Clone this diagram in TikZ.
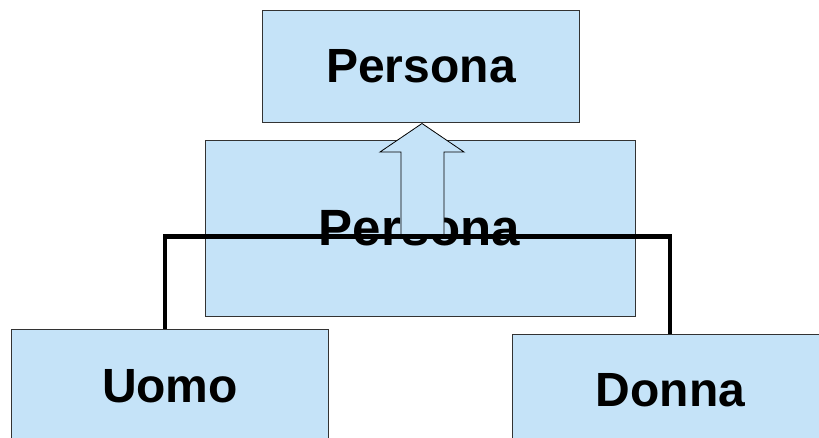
\documentclass[tikz,border=0pt]{standalone}
\usepackage{fontspec}
\setmainfont{Liberation Sans}
\definecolor{boxblue}{RGB}{197,227,248}
\begin{document}
\begin{tikzpicture}[x=1pt,y=-1pt,
  umlbox/.style={draw=black!80,line width=1pt,fill=boxblue,inner sep=0pt},
  lbl/.style={font=\bfseries\fontsize{48}{48}\selectfont,anchor=base,inner sep=0pt},
  link/.style={draw=black,line width=4.5pt}]
\useasboundingbox (0,0) rectangle (819,438);
% boxes
\node[umlbox,minimum width=317pt,minimum height=112pt] (top) at (420.5,67) {};
\node[umlbox,minimum width=430pt,minimum height=175pt] (mid) at (420,228.5) {};
\node[umlbox,minimum width=317pt,minimum height=115pt] (uomo) at (169.5,386.5) {};
\node[umlbox,minimum width=316pt,minimum height=115pt] (donna) at (670,391.5) {};
% labels
\node[lbl] (ttop) at (421,83) {Persona};
\node[lbl,font=\bfseries\fontsize{51}{51}\selectfont] (tmid) at (419.5,245.5) {Persona};
\node[lbl] (tuomo) at (170,402) {Uomo};
\node[lbl] (tdonna) at (670.5,406) {Donna};
% block arrow
\draw[draw=black,line width=0.8pt,fill=boxblue,line join=miter]
  (401,236) -- (401,152) -- (380,152) -- (top.south -| 422,0) -- (464,152)
  -- (444,152) -- (444,236) -- cycle;
% connector
\draw[link] ([xshift=-4.5pt]uomo.north) |- (donna.north |- 0,236.3) -- (donna.north);
\end{tikzpicture}
\end{document}
